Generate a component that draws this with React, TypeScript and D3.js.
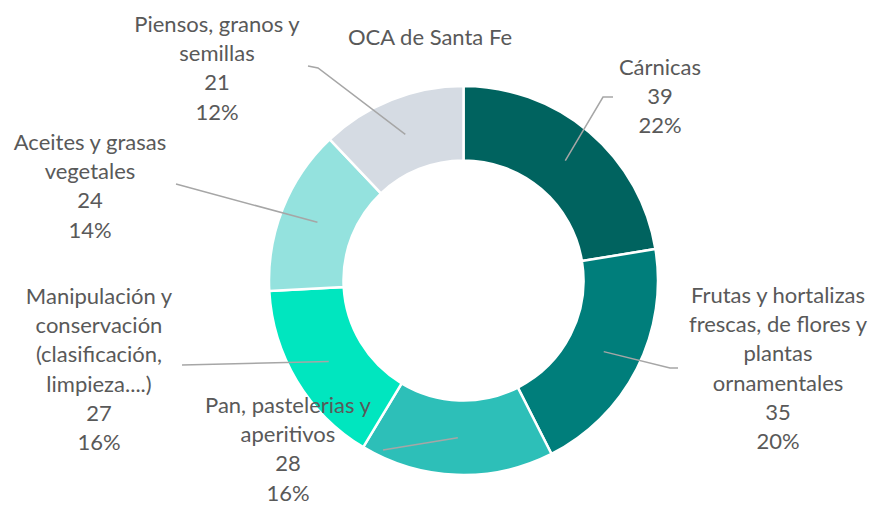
import * as d3 from 'd3'

const categories = [
  'Cárnicas',
  'Frutas y hortalizas frescas, de flores y plantas ornamentales',
  'Pan, pastelerias y aperitivos',
  'Manipulación y conservación (clasificación, limpieza....)',
  'Aceites y grasas vegetales',
  'Piensos, granos y semillas',
]
const values = [39, 35, 28, 27, 24, 21]
const labelLines = [
  ['Cárnicas'],
  ['Frutas y hortalizas', 'frescas, de flores y', 'plantas', 'ornamentales'],
  ['Pan, pastelerias y', 'aperitivos'],
  ['Manipulación y', 'conservación', '(clasificación,', 'limpieza....)'],
  ['Aceites y grasas', 'vegetales'],
  ['Piensos, granos y', 'semillas'],
]
const colors = ['#00635f', '#007e7b', '#2dbfb8', '#00e6bf', '#94e2de', '#d5dbe3']

// label block placement: centre x, first baseline, leader end points
const labelPos = [
  { x: 660, y: 75, leader: [[603, 97], [613, 97]] },
  { x: 778, y: 303, leader: [[670, 368], [678, 368]] },
  { x: 288, y: 413, leader: [[383, 450]] },
  { x: 99, y: 304, leader: [[182, 365]] },
  { x: 90, y: 150, leader: [[176, 184]] },
  { x: 217, y: 32, leader: [[318, 68], [308, 66]] },
]

const W = 876
const H = 505
const cx = 463.5
const cy = 280.5
const rOuter = 194.5
const rInner = 120
const lineH = 29.2
const fontSize = 22
const font = "Lato, 'Open Sans', sans-serif"
const textColor = '#595959'

export default function App() {
  const total = d3.sum(values)
  const pie = d3.pie<number>().sort(null).value((d) => d)
  const arcs = pie(values)
  const arc = d3.arc<d3.PieArcDatum<number>>().innerRadius(rInner).outerRadius(rOuter)
  const mid = d3.arc<d3.PieArcDatum<number>>()
    .innerRadius((rInner + rOuter) / 2)
    .outerRadius((rInner + rOuter) / 2)
  const pct = d3.format('.0%')

  return (
    <svg
      width={W}
      height={H}
      style={{ position: 'absolute', left: 0, top: 0, background: '#fff' }}
      fontFamily={font}
    >
      <text x={430} y={45} textAnchor="middle" fontSize={fontSize} fill={textColor}>
        OCA de Santa Fe
      </text>
      <g transform={`translate(${cx},${cy})`}>
        {arcs.map((a, i) => (
          <path key={categories[i]} d={arc(a) || ''} fill={colors[i]} stroke="#fff" strokeWidth={2.5} />
        ))}
      </g>
      {arcs.map((a, i) => {
        const [mx, my] = mid.centroid(a)
        const pts = [[cx + mx, cy + my], ...labelPos[i].leader]
        return (
          <path
            key={'l' + i}
            d={d3.line()(pts as [number, number][]) || ''}
            fill="none"
            stroke="#a6a6a6"
            strokeWidth={1.5}
          />
        )
      })}
      {arcs.map((a, i) => {
        const lines = [...labelLines[i], String(values[i]), pct(values[i] / total)]
        return (
          <text key={'t' + i} textAnchor="middle" fontSize={fontSize} fill={textColor}>
            {lines.map((s, j) => (
              <tspan key={j} x={labelPos[i].x} y={labelPos[i].y + j * lineH}>
                {s}
              </tspan>
            ))}
          </text>
        )
      })}
    </svg>
  )
}
